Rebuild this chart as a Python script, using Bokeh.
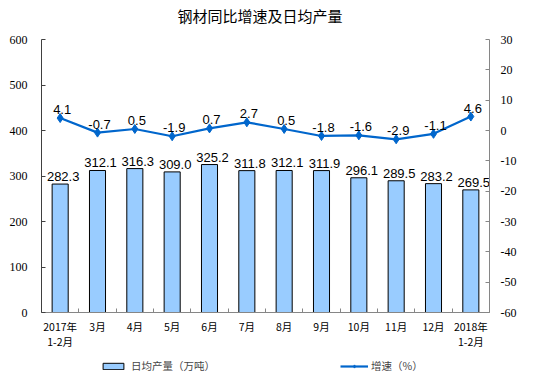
from bokeh.plotting import figure
from bokeh.layouts import column
from bokeh.models import (Range1d, LinearAxis, FixedTicker, ColumnDataSource,
                          Legend, LegendItem, Label)
from bokeh.embed import file_html
from bokeh.resources import INLINE
from bokeh.core.properties import value

title_text = "钢材同比增速及日均产量"
categories = ["2017年\n1-2月", "3月", "4月", "5月", "6月", "7月", "8月", "9月",
              "10月", "11月", "12月", "2018年\n1-2月"]
output = [282.3, 312.1, 316.3, 309.0, 325.2, 311.8, 312.1, 311.9, 296.1, 289.5, 283.2, 269.5]
growth = [4.1, -0.7, 0.5, -1.9, 0.7, 2.7, 0.5, -1.8, -1.6, -2.9, -1.1, 4.6]
left_ticks = [0, 100, 200, 300, 400, 500, 600]
right_ticks = [-60, -50, -40, -30, -20, -10, 0, 10, 20, 30]
legend_labels = ["日均产量（万吨）", "增速（%）"]

BAR_FILL = "#99CCFF"
LINE_COLOR = "#0066CC"

xs = list(range(len(categories)))
src = ColumnDataSource(dict(
    x=xs, out=output, g=growth,
    out_lbl=["%.1f" % v for v in output],
    g_lbl=["%.1f" % v for v in growth],
))

# title strip
t = figure(width=540, height=30, output_backend="svg", toolbar_location=None,
           x_range=Range1d(0, 1), y_range=Range1d(0, 1),
           x_axis_location=None, y_axis_location=None,
           min_border=0, min_border_left=0, min_border_right=0,
           min_border_top=0, min_border_bottom=0)
t.outline_line_color = None
t.grid.visible = False
t.add_layout(Label(x=136, y=15, x_units="screen", y_units="screen", text=title_text,
                   text_font="Noto Sans CJK SC", text_font_size="15px",
                   text_align="left", text_baseline="middle", text_color="black"))

p = figure(width=540, height=322, output_backend="svg", toolbar_location=None,
           x_range=Range1d(-0.5, len(categories) - 0.5), y_range=Range1d(0, 600),
           min_border_left=41, min_border_right=51, min_border_top=9, min_border_bottom=40)
p.outline_line_color = None
p.grid.visible = False
p.extra_y_ranges = {"g": Range1d(-60, 30)}

bars = p.vbar(x="x", top="out", width=0.43, source=src, fill_color=BAR_FILL,
              line_color="black", line_width=1)
ln = p.line(x="x", y="g", source=src, y_range_name="g", line_color=LINE_COLOR, line_width=2.2)
mk = p.scatter(x="x", y="g", source=src, y_range_name="g", marker="diamond", size=9,
               fill_color=LINE_COLOR, line_color=LINE_COLOR)

p.text(x="x", y="out", text="out_lbl", source=src, text_align="center",
       text_baseline="bottom", x_offset=3, y_offset=-3, text_font=value("Liberation Sans"),
       text_font_size="13px", text_color="black")
p.text(x="x", y="g", text="g_lbl", source=src, y_range_name="g", text_align="center",
       text_baseline="bottom", x_offset=2, y_offset=-4, text_font=value("Liberation Sans"),
       text_font_size="13px", text_color="black")

# x axis
xa = p.xaxis[0]
xa.ticker = FixedTicker(ticks=xs, minor_ticks=[i - 0.5 for i in range(len(categories) + 1)])
xa.major_label_overrides = {i: c for i, c in enumerate(categories)}
xa.major_tick_in = 0
xa.major_tick_out = 0
xa.minor_tick_in = 4
xa.minor_tick_out = 0
xa.axis_line_color = "#868686"
xa.minor_tick_line_color = "#868686"
xa.major_label_text_font = "Noto Sans CJK SC"
xa.major_label_text_font_size = "10.5px"
xa.major_label_text_color = "black"
xa.major_label_text_line_height = 1.05
xa.major_label_standoff = 6

# left axis
ya = p.yaxis[0]
ya.ticker = FixedTicker(ticks=left_ticks)
ya.minor_tick_line_color = None
ya.major_tick_in = 4
ya.major_tick_out = 0
ya.axis_line_color = "#404040"
ya.major_tick_line_color = "#404040"
ya.major_label_text_font = "Liberation Serif"
ya.major_label_text_font_size = "12px"
ya.major_label_text_color = "black"
ya.major_label_standoff = 14

# right axis
ra = LinearAxis(y_range_name="g", ticker=FixedTicker(ticks=right_ticks))
ra.major_label_overrides = {t_: str(t_) for t_ in right_ticks}
ra.minor_tick_line_color = None
ra.major_tick_in = 4
ra.major_tick_out = 0
ra.axis_line_color = "#868686"
ra.major_tick_line_color = "#868686"
ra.major_label_text_font = "Liberation Serif"
ra.major_label_text_font_size = "12px"
ra.major_label_text_color = "black"
ra.major_label_standoff = 11
p.add_layout(ra, "right")

# legend strip below the chart (its own renderers are kept out of view)
q = figure(width=540, height=28, output_backend="svg", toolbar_location=None,
           x_range=Range1d(1000, 1001), y_range=Range1d(5000, 5001),
           x_axis_location=None, y_axis_location=None,
           min_border=0, min_border_left=0, min_border_right=0,
           min_border_top=0, min_border_bottom=0)
q.outline_line_color = None
q.grid.visible = False
d_bar = q.vbar(x="x", top="out", width=0.43, source=src, fill_color=BAR_FILL,
               line_color="black", line_width=1)
d_ln = q.line(x="x", y="out", source=src, line_color=LINE_COLOR, line_width=2.2)
d_mk = q.scatter(x="x", y="out", source=src, marker="diamond", size=9,
                 fill_color=LINE_COLOR, line_color=LINE_COLOR)

common = dict(orientation="horizontal", glyph_height=8, padding=0, margin=0,
              border_line_color=None, background_fill_alpha=0,
              label_text_font="Noto Sans CJK SC", label_text_font_size="10.5px",
              label_height=14)
leg1 = Legend(items=[LegendItem(label=legend_labels[0], renderers=[d_bar])],
              location=(59, 7), glyph_width=26, label_standoff=5, **common)
leg2 = Legend(items=[LegendItem(label=legend_labels[1], renderers=[d_ln, d_mk])],
              location=(299, 7), glyph_width=28, label_standoff=3, **common)
q.add_layout(leg1, "center")
q.add_layout(leg2, "center")

layout = column(t, p, q, spacing=0)
open("out.html", "w").write(file_html(layout, INLINE))
